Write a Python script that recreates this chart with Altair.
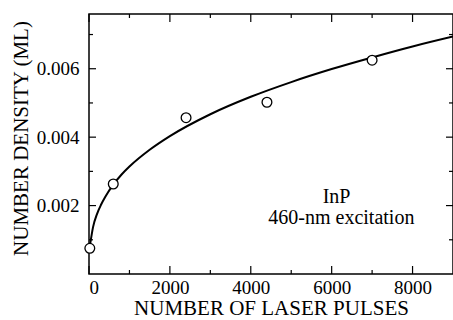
import altair as alt
import pandas as pd

# Measured data points (open circles)
pulses = [20, 600, 2400, 4400, 7000]
density = [0.00075, 0.00263, 0.00457, 0.00502, 0.00625]

# Fitted curve, values
curve_x = [30, 100, 200, 300, 400, 600, 800, 1000, 1500, 2000, 3000, 4000, 5000, 6000, 7000, 8000, 9000]
curve_y = [0.00088, 0.00137, 0.00176, 0.00203, 0.00225, 0.00261, 0.0029, 0.00314, 0.00363, 0.00403,
           0.00467, 0.00518, 0.00561, 0.00599, 0.00633, 0.00665, 0.00694]

# Tick values
x_major = [0, 2000, 4000, 6000, 8000]
x_minor = [1000, 3000, 5000, 7000]
y_major = [0.002, 0.004, 0.006]
y_minor = [0.001, 0.003, 0.005, 0.007]

# Annotations
ann_text = ["InP", "460-nm excitation"]
ann_x = [6120, 6240]
ann_y = [0.00209, 0.00147]

W, H = 364, 260
FONT = "Liberation Serif"

xs = alt.Scale(domain=[0, 9000], nice=False, zero=False)
ys = alt.Scale(domain=[0, 0.0076], nice=False, zero=False)

xaxis = alt.Axis(values=x_major, format="d", title="NUMBER OF LASER PULSES", labelPadding=4, titlePadding=0)
yaxis = alt.Axis(values=y_major, format=".3f", title="NUMBER DENSITY (ML)", labelPadding=10,
                 titlePadding=5, titleY=124)

X = alt.X("x:Q", scale=xs, axis=xaxis)
Y = alt.Y("y:Q", scale=ys, axis=yaxis)

curve_df = pd.DataFrame({"x": curve_x, "y": curve_y})
pts_df = pd.DataFrame({"x": pulses, "y": density})
ann_df = pd.DataFrame({"x": ann_x, "y": ann_y, "t": ann_text})

line = alt.Chart(curve_df).mark_line(color="black", strokeWidth=2, interpolate="monotone").encode(x=X, y=Y)
pts = alt.Chart(pts_df).mark_point(shape="circle", size=95, filled=True, fill="white",
                                   stroke="black", strokeWidth=1.3, opacity=1).encode(x=X, y=Y)
ann = alt.Chart(ann_df).mark_text(font=FONT, fontSize=20, color="black", align="center",
                                  baseline="alphabetic").encode(x=X, y=Y, text="t:N")

def xticks(vals, length):
    df = pd.DataFrame({"x": vals})
    bot = alt.Chart(df).mark_rule(color="black", strokeWidth=1.2).encode(
        x=X, y=alt.value(H), y2=alt.value(H - length))
    top = alt.Chart(df).mark_rule(color="black", strokeWidth=1.2).encode(
        x=X, y=alt.value(0), y2=alt.value(length))
    return [bot, top]

def yticks(vals, length):
    df = pd.DataFrame({"y": vals})
    left = alt.Chart(df).mark_rule(color="black", strokeWidth=1.2).encode(
        y=Y, x=alt.value(0), x2=alt.value(length))
    right = alt.Chart(df).mark_rule(color="black", strokeWidth=1.2).encode(
        y=Y, x=alt.value(W), x2=alt.value(W - length))
    return [left, right]

layers = [line] + xticks(x_major, 8) + xticks(x_minor, 4) + yticks(y_major, 7) + yticks(y_minor, 4) + [pts, ann]

chart = alt.layer(*layers).properties(
    width=W, height=H,
    autosize=alt.AutoSizeParams(type="none"),
    padding={"left": 89, "top": 14, "right": 0, "bottom": 46},
    background="white",
).configure_view(stroke="black", strokeWidth=1.5).configure_axis(
    grid=False, ticks=False, tickSize=0, domain=False,
    labelFont=FONT, titleFont=FONT, labelFontSize=19, titleFontSize=21,
    titleFontWeight="normal", labelColor="black", titleColor="black",
)

chart.save("out.html", embed_options={"renderer": "svg", "actions": False})
